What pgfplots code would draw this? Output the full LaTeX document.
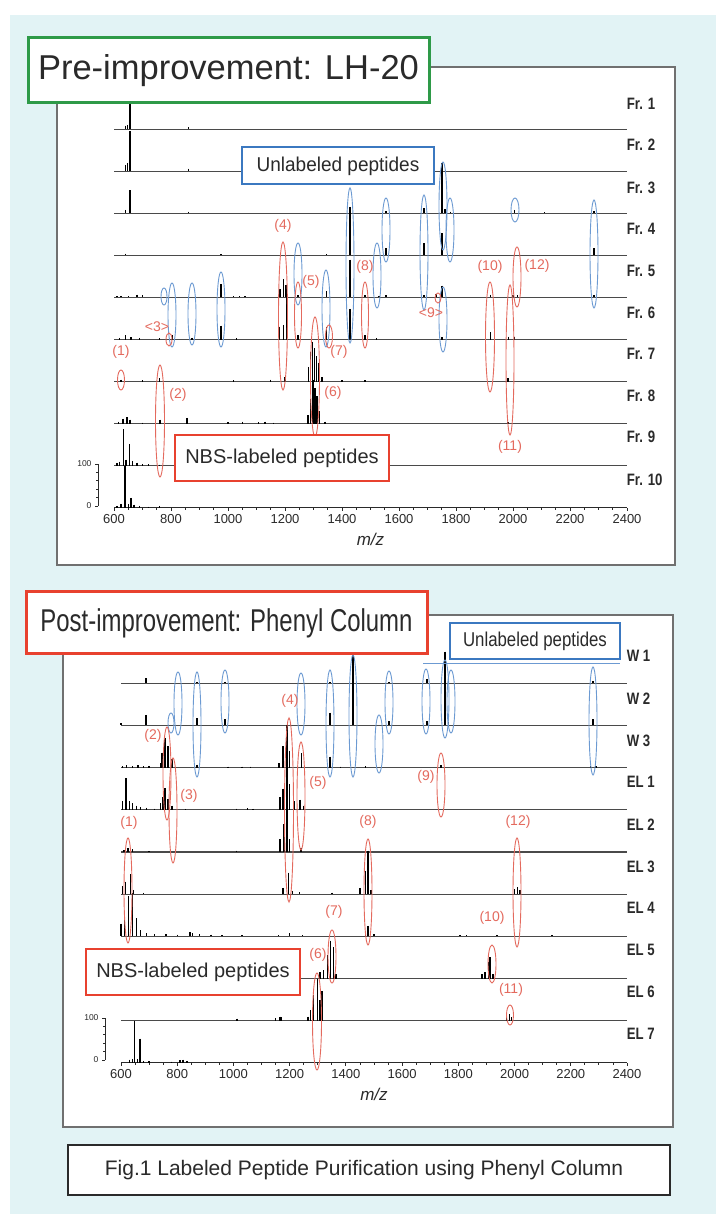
\documentclass[border=0pt]{standalone}
\usepackage{fontspec}
\setmainfont{Liberation Sans}
\usepackage{pgfplots}
\pgfplotsset{compat=1.18}
\definecolor{bgc}{HTML}{E2F3F5}
\definecolor{frame}{HTML}{707070}
\definecolor{grn}{HTML}{2E9A48}
\definecolor{redb}{HTML}{E8412F}
\definecolor{blub}{HTML}{3B78C0}
\definecolor{elb}{HTML}{6C9AD2}
\definecolor{elr}{HTML}{E46A5E}
\definecolor{ink}{HTML}{2A2A2A}

\pgfplotsset{
  spec/.style={
    scale only axis, anchor=south west,
    xmin=600, xmax=2400, ymin=0, ymax=10.5, clip=false,
    axis y line=none, axis x line*=bottom,
    axis line style={ink, line width=1pt, -},
    xtick={600,800,...,2400}, minor x tick num=3,
    tick align=outside, major tick length=3pt, minor tick length=2pt,
    tick style={ink, line width=0.8pt},
    ticklabel style={font=\fontsize{13}{13}\selectfont, text=ink},
    /pgf/number format/assume math mode=true,
    /pgf/number format/1000 sep={},
    xlabel={\itshape m/z},
    xlabel style={font=\fontsize{17}{17}\selectfont, text=ink, yshift=-3pt},
  },
  scalebar/.style={
    scale only axis, anchor=south west, width=8pt, height=42pt,
    xmin=0, xmax=1, ymin=0, ymax=100,
    axis x line=none, axis y line*=left,
    axis line style={ink, line width=0.8pt, -},
    ytick={0,100}, minor y tick num=4, tick align=outside,
    major tick length=3pt, minor tick length=2pt,
    tick style={ink, line width=0.6pt},
    ticklabel style={font=\fontsize{8.5}{8.5}\selectfont, text=ink},
    /pgf/number format/assume math mode=true,
  },
  spk/.style={draw=none, mark=none, forget plot,
    error bars/.cd, y dir=minus, y explicit, error mark=none,
    error bar style={draw=black, solid, line width=1.4pt}},
  base/.style={ink!85, line width=1.1pt, forget plot},
}
% one spectrum: offset (trace index), rows "m/z height"
\newcommand\trace[2]{\addplot[spk] table[row sep=\\, y expr=\thisrow{h}+#1, y error expr=\thisrow{h}] {x h\\#2};}

\begin{document}
\begin{tikzpicture}
% background
\fill[white] (0pt,0pt) rectangle (716pt,1214pt);
\fill[bgc] (10pt,0pt) rectangle (716pt,1199pt);

\begin{scope}[x=1pt, y=-1pt, yshift=1214pt]
\draw[frame, line width=1.5pt, fill=white] (57,67) rectangle (675,565);
\draw[frame, line width=1.5pt, fill=white] (63,615) rectangle (673,1127);
\end{scope}

% ---------- top panel: LH-20 fractions ----------
\begin{axis}[spec, x=0.285pt, y=42.1pt, at={(114pt,706pt)}]
\pgfplotsinvokeforeach{1,...,9}{\addplot[base] coordinates {(600,#1) (2400,#1)};}
\trace{9}{640 0.08\\ 648 0.1\\ 656 1.0\\ 862 0.04\\}
\trace{8}{640 0.15\\ 648 0.2\\ 656 0.95\\ 862 0.06\\}
\trace{7}{640 0.08\\ 656 0.55\\ 862 0.04\\ 1428 0.15\\ 1554 0.05\\ 1688 0.12\\ 1751 1.2\\ 1762 0.1\\ 1780 0.04\\ 2006 0.08\\ 2110 0.03\\ 2284 0.06\\}
\trace{6}{640 0.04\\ 976 0.03\\ 1345 0.03\\ 1428 1.1\\ 1554 0.17\\ 1688 0.29\\ 1751 0.53\\ 2284 0.17\\}
\trace{5}{610 0.03\\ 625 0.04\\ 650 0.03\\ 680 0.07\\ 700 0.05\\ 976 0.32\\ 1020 0.03\\ 1040 0.03\\ 1060 0.03\\ 1182 0.2\\ 1195 0.44\\ 1203 0.3\\ 1245 0.05\\ 1345 0.15\\ 1428 0.9\\ 1481 0.05\\ 1530 0.03\\ 1554 0.05\\ 1688 0.05\\ 1730 0.08\\ 1751 0.28\\ 1922 0.07\\ 2000 0.05\\ 2015 0.05\\ 2284 0.05\\}
\trace{4}{620 0.04\\ 640 0.1\\ 660 0.05\\ 690 0.04\\ 760 0.03\\ 806 0.1\\ 874 0.04\\ 976 0.33\\ 1030 0.03\\ 1180 0.3\\ 1195 0.35\\ 1205 1.2\\ 1245 0.1\\ 1345 0.3\\ 1428 0.73\\ 1481 0.1\\ 1520 0.03\\ 1751 0.05\\ 1922 0.17\\ 1935 0.05\\ 1985 0.07\\ 2005 0.07\\}
\trace{3}{625 0.05\\ 700 0.03\\ 760 0.08\\ 1020 0.03\\ 1150 0.05\\ 1200 0.12\\ 1283 0.35\\ 1290 0.7\\ 1297 0.95\\ 1303 0.8\\ 1310 0.6\\ 1318 0.45\\ 1330 0.1\\ 1400 0.03\\ 1480 0.03\\ 1982 0.08\\}
\trace{2}{615 0.05\\ 632 0.12\\ 645 0.16\\ 656 0.1\\ 700 0.03\\ 761 0.1\\ 856 0.14\\ 1000 0.04\\ 1050 0.05\\ 1108 0.04\\ 1130 0.05\\ 1160 0.03\\ 1280 0.2\\ 1290 0.6\\ 1298 1.05\\ 1305 0.85\\ 1312 0.65\\ 1320 0.3\\ 1340 0.05\\ 1982 0.04\\}
\trace{1}{610 0.06\\ 620 0.1\\ 633 0.87\\ 642 0.15\\ 655 0.52\\ 665 0.12\\ 680 0.08\\ 700 0.05\\ 720 0.04\\ 760 0.03\\}
\trace{0}{610 0.05\\ 625 0.1\\ 639 1.0\\ 650 0.1\\ 660 0.24\\ 670 0.08\\ 690 0.05\\ 720 0.03\\ 760 0.05\\}
\end{axis}
\begin{axis}[scalebar, at={(98pt,708pt)}]
\addplot[draw=none, forget plot] coordinates {(0,0) (1,100)};
\end{axis}

% ---------- bottom panel: phenyl column ----------
\begin{axis}[spec, x=0.2811pt, y=42.2pt, at={(121pt,151pt)}]
\pgfplotsinvokeforeach{1,...,9}{\addplot[base] coordinates {(600,#1) (2400,#1)};}
\trace{9}{689 0.12\\ 871 0.03\\ 970 0.03\\ 1343 0.03\\ 1425 0.8\\ 1553 0.03\\ 1688 0.1\\ 1753 0.75\\ 2279 0.05\\}
\trace{8}{600 0.05\\ 689 0.25\\ 871 0.17\\ 970 0.15\\ 1343 0.3\\ 1425 1.8\\ 1553 0.1\\ 1688 0.1\\ 1753 1.0\\ 1765 0.08\\ 2279 0.15\\}
\trace{7}{605 0.03\\ 620 0.05\\ 640 0.04\\ 660 0.06\\ 680 0.03\\ 700 0.04\\ 740 0.1\\ 746 0.35\\ 757 0.71\\ 767 0.5\\ 781 0.2\\ 871 0.07\\ 980 0.02\\ 1030 0.02\\ 1060 0.02\\ 1162 0.1\\ 1176 0.5\\ 1190 1.0\\ 1200 0.4\\ 1242 0.34\\ 1343 0.26\\ 1380 0.02\\ 1470 0.03\\ 1738 0.05\\ 2270 0.03\\ 2290 0.03\\}
\trace{6}{605 0.2\\ 618 0.75\\ 630 0.2\\ 640 0.15\\ 655 0.1\\ 670 0.06\\ 690 0.05\\ 720 0.03\\ 740 0.15\\ 750 0.3\\ 757 0.51\\ 767 0.25\\ 781 0.1\\ 830 0.02\\ 1010 0.03\\ 1050 0.04\\ 1070 0.02\\ 1165 0.3\\ 1176 0.5\\ 1190 1.03\\ 1200 0.6\\ 1215 0.2\\ 1237 0.24\\ 1250 0.1\\}
\trace{5}{610 0.05\\ 625 0.1\\ 640 0.06\\ 700 0.02\\ 1010 0.03\\ 1165 0.3\\ 1180 0.67\\ 1190 0.99\\ 1200 0.3\\ 1240 0.1\\}
\trace{4}{605 0.2\\ 615 0.3\\ 633 0.48\\ 645 0.1\\ 680 0.03\\ 1176 0.15\\ 1196 0.51\\ 1210 0.08\\ 1235 0.05\\ 1350 0.04\\ 1450 0.15\\ 1470 0.55\\ 1478 1.03\\ 1490 0.1\\ 2000 0.12\\ 2010 0.16\\ 2020 0.1\\}
\trace{3}{600 0.3\\ 612 0.5\\ 626 0.95\\ 641 1.03\\ 656 0.43\\ 670 0.15\\ 690 0.08\\ 720 0.05\\ 760 0.05\\ 800 0.04\\ 845 0.1\\ 855 0.08\\ 880 0.05\\ 920 0.04\\ 960 0.03\\ 1030 0.03\\ 1160 0.03\\ 1200 0.08\\ 1245 0.03\\ 1470 0.1\\ 1478 0.25\\ 1500 0.05\\ 1806 0.03\\ 1830 0.03\\ 1937 0.03\\ 2133 0.03\\}
\trace{2}{1308 0.15\\ 1320 0.2\\ 1335 0.55\\ 1345 0.9\\ 1355 0.75\\ 1365 0.1\\ 1884 0.1\\ 1895 0.15\\ 1907 0.4\\ 1913 0.5\\ 1924 0.1\\}
\trace{1}{1013 0.05\\ 1150 0.06\\ 1165 0.1\\ 1172 0.08\\ 1265 0.1\\ 1275 0.25\\ 1285 0.6\\ 1298 0.98\\ 1308 0.5\\ 1315 0.7\\ 1972 0.08\\ 1981 0.15\\ 1990 0.08\\}
\trace{0}{630 0.08\\ 640 0.1\\ 648 1.0\\ 658 0.1\\ 668 0.58\\ 680 0.05\\ 700 0.04\\ 780 0.03\\ 810 0.06\\ 820 0.08\\ 835 0.05\\}
\end{axis}
\begin{axis}[scalebar, at={(105pt,154pt)}]
\addplot[draw=none, forget plot] coordinates {(0,0) (1,100)};
\end{axis}

% ---------- annotations (pixel coordinates, y down) ----------
\begin{scope}[x=1pt, y=-1pt, yshift=1214pt]
\tikzset{lab/.style={anchor=west, text=ink, font=\fontsize{16.5}{16.5}\selectfont\bfseries, xscale=0.8},
  rl/.style={text=elr, font=\fontsize{14}{14}\selectfont}}
\foreach \n/\yy in {1/104,2/145,3/188,4/229,5/271,6/313,7/354,8/396,9/437,10/480}
  \node[lab] at (624,\yy) {Fr. \n};
\foreach \n/\yy in {W 1/656,W 2/699,W 3/741,EL 1/782,EL 2/825,EL 3/867,EL 4/908,EL 5/950,EL 6/992,EL 7/1034}
  \node[lab] at (624,\yy) {\n};

% ellipses: centre x, top y, bottom y, half width
\foreach \cx/\ya/\yb/\rx in {350/188/343/4, 386/198/262/4, 377/243/308/4, 424/195/310/4, 443/162/250/4, 450/198/262/4, 443/287/352/4, 515/198/222/4, 594/200/308/4, 298/243/305/4, 326/270/347/4, 221/272/347/4, 172/283/347/4, 164/288/305/3, 192/283/345/4,
  178/672/735/4, 171/713/733/3, 197/672/777/4, 225/670/733/4, 301/673/735/4, 330/670/777/4, 353/655/777/4, 379/715/773/4, 389/671/734/4, 426/669/734/4, 445/660/738/4, 451/670/733/4, 593/667/775/4}
  \draw[elb, line width=0.9pt] (\cx,{(\ya+\yb)/2}) ellipse [x radius=\rx, y radius={(\yb-\ya)/2}];
\foreach \cx/\ya/\yb/\rx in {283/242/390/4.5, 298/282/348/3.5, 365/282/348/3.5, 490/282/392/4.5, 517/247/307/4, 510/285/435/4, 438/293/303/3, 169/333/346/3, 121/370/390/3.5, 160/365/477/4.5, 315/317/437/4.5, 329/325/348/3.5,
  167/727/820/4, 173/758/863/4, 289/718/902/4.5, 301/742/850/4, 441/753/817/4, 128/838/943/4, 368/839/945/4, 517/838/947/4, 332/930/983/4, 492/945/983/4, 317/973/1070/4.5, 510/1005/1025/3.5}
  \draw[elr, line width=0.9pt] (\cx,{(\ya+\yb)/2}) ellipse [x radius=\rx, y radius={(\yb-\ya)/2}];

\foreach \t/\xx/\yy in {(4)/283/226, (5)/311/282, (8)/365/267, (10)/490/267, (12)/537/266, (11)/510/447, (1)/121/352, (2)/178/395, (6)/333/393, (7)/339/352,
  (2)/153/736, (3)/189/796, (4)/290/701, (5)/318/783, (9)/426/777, (1)/129/823, (8)/368/822, (12)/518/822, (7)/334/912, (10)/492/918, (6)/318/955, (11)/511/990}
  \node[rl] at (\xx,\yy) {\t};
\node[rl] at (157,327) {<3>};
\node[rl] at (431,313) {<9>};

% text boxes
\draw[grn, line width=3pt, fill=white] (28,38) rectangle (429,103);
\node[font=\fontsize{34.5}{36}\selectfont, text=ink] at (228.5,71) {Pre-improvement: LH-20};
\draw[blub, line width=1.5pt, fill=white] (242,147) rectangle (434,184);
\node[font=\fontsize{20}{20}\selectfont, text=ink, xscale=0.95] at (338,166) {Unlabeled peptides};
\draw[redb, line width=1.5pt, fill=white] (175,435) rectangle (389,481);
\node[font=\fontsize{20}{20}\selectfont, text=ink] at (282,458) {NBS-labeled peptides};

\draw[redb, line width=3pt, fill=white] (26,592) rectangle (427,654);
\node[font=\fontsize{31.5}{33}\selectfont, text=ink, xscale=0.76] at (226.5,623) {Post-improvement: Phenyl Column};
\draw[elb, line width=0.8pt] (423,663) -- (620,663);
\draw[blub, line width=1.5pt, fill=white] (450,623) rectangle (620,659);
\node[font=\fontsize{20}{20}\selectfont, text=ink, xscale=0.84] at (535,641) {Unlabeled peptides};
\draw[redb, line width=1.5pt, fill=white] (86,949) rectangle (300,995);
\node[font=\fontsize{20}{20}\selectfont, text=ink] at (193,972) {NBS-labeled peptides};

\draw[ink, line width=1.2pt, fill=white] (68,1145) rectangle (670,1195);
\node[font=\fontsize{21}{21}\selectfont, text=ink] at (364,1170) {Fig.1 Labeled Peptide Purification using Phenyl Column};
\end{scope}
\end{tikzpicture}
\end{document}
